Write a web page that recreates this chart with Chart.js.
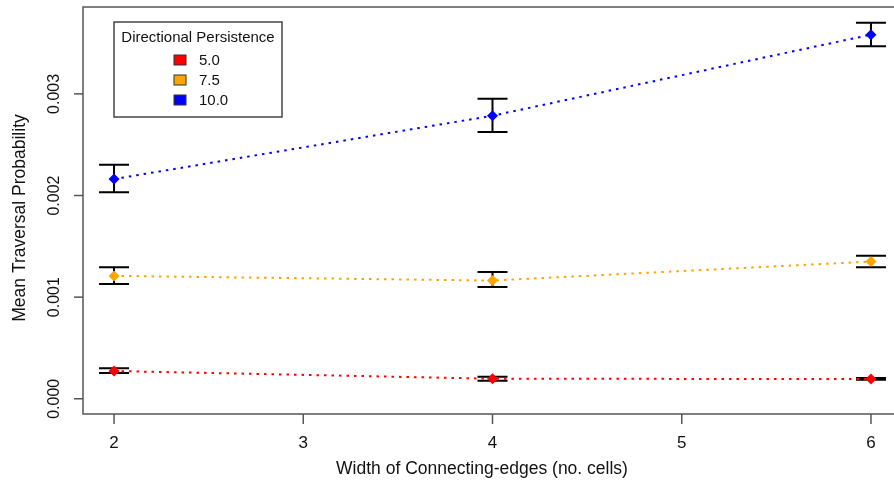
<!DOCTYPE html>
<html>
<head>
<meta charset="utf-8">
<script src="https://cdn.jsdelivr.net/npm/chart.js@4"></script>
<style>
  html, body { margin: 0; padding: 0; background: #fff; overflow: hidden; }
  #wrap { width: 930px; height: 487px; }
</style>
</head>
<body>
<div id="wrap"><canvas id="plot" width="930" height="487"></canvas></div>
<script>
// x values: width of connecting edges
const widths = [2, 4, 6];
const xTicks = [2, 3, 4, 5, 6];
const yTicks = [0, 0.001, 0.002, 0.003];
const yTickLabels = ['0.000', '0.001', '0.002', '0.003'];

const seriesNames = ['5.0', '7.5', '10.0'];
const seriesColors = ['#ff0000', '#ffa500', '#0000ff'];

// mean traversal probability per persistence
const mean50 = [0.000273, 0.000197, 0.000194];
const mean75 = [0.001209, 0.001163, 0.001350];
const mean100 = [0.002162, 0.002785, 0.003583];

// error bar ends
const upper50 = [0.000300, 0.000217, 0.000204];
const lower50 = [0.000253, 0.000177, 0.000186];
const upper75 = [0.001295, 0.001248, 0.001406];
const lower75 = [0.001130, 0.001100, 0.001295];
const upper100 = [0.002302, 0.002953, 0.003699];
const lower100 = [0.002033, 0.002625, 0.003468];

const means = [mean50, mean75, mean100];
const uppers = [upper50, upper75, upper100];
const lowers = [lower50, lower75, lower100];

const FONT = '"Liberation Sans", Arial, sans-serif';

const datasets = seriesNames.map((name, i) => ({
    label: name,
    data: widths.map((w, j) => ({x: w, y: means[i][j]})),
    borderColor: seriesColors[i],
    backgroundColor: seriesColors[i],
    borderWidth: 2,
    borderDash: [2.5, 5],
    borderCapStyle: 'butt',
    tension: 0,
    pointStyle: 'rectRot',
    pointRadius: 5.5,
    pointBorderWidth: 0,
    showLine: true,
    fill: false,
}));

// error bars drawn under the points
const errorBars = {
    id: 'errorBars',
    beforeDatasetsDraw(chart) {
        const {ctx, scales: {x, y}} = chart;
        ctx.save();
        ctx.strokeStyle = '#000';
        ctx.lineWidth = 2;
        for (let i = 0; i < means.length; i++) {
            for (let j = 0; j < widths.length; j++) {
                const px = x.getPixelForValue(widths[j]);
                const top = y.getPixelForValue(uppers[i][j]);
                const bot = y.getPixelForValue(lowers[i][j]);
                ctx.beginPath();
                ctx.moveTo(px, top); ctx.lineTo(px, bot);
                ctx.moveTo(px - 15, top); ctx.lineTo(px + 15, top);
                ctx.moveTo(px - 15, bot); ctx.lineTo(px + 15, bot);
                ctx.stroke();
            }
        }
        ctx.restore();
    }
};

// R-style box, axes, titles and legend
const frame = {
    id: 'frame',
    afterDraw(chart) {
        const {ctx, chartArea: a, scales: {x, y}} = chart;
        ctx.save();
        ctx.strokeStyle = '#555';
        ctx.lineWidth = 1.5;
        ctx.strokeRect(a.left, a.top, a.right - a.left, a.bottom - a.top);

        ctx.fillStyle = '#111';
        ctx.font = '17px ' + FONT;
        ctx.textAlign = 'center';
        ctx.textBaseline = 'middle';
        xTicks.forEach(v => {
            const px = x.getPixelForValue(v);
            ctx.beginPath();
            ctx.moveTo(px, a.bottom); ctx.lineTo(px, a.bottom + 10);
            ctx.stroke();
            ctx.fillText(String(v), px, 443);
        });
        ctx.font = '16px ' + FONT;
        yTicks.forEach((v, k) => {
            const py = y.getPixelForValue(v);
            ctx.beginPath();
            ctx.moveTo(a.left, py); ctx.lineTo(a.left - 9, py);
            ctx.stroke();
            ctx.save();
            ctx.translate(55, py);
            ctx.rotate(-Math.PI / 2);
            ctx.fillText(yTickLabels[k], 0, 0);
            ctx.restore();
        });

        ctx.font = '17.5px ' + FONT;
        ctx.fillText('Width of Connecting-edges (no. cells)', 482, 469);
        ctx.save();
        ctx.translate(20, 218);
        ctx.rotate(-Math.PI / 2);
        ctx.fillText('Mean Traversal Probability', 0, 0);
        ctx.restore();

        // legend
        ctx.strokeStyle = '#444';
        ctx.lineWidth = 1.5;
        ctx.fillStyle = '#fff';
        ctx.fillRect(114, 22, 168, 95);
        ctx.strokeRect(114, 22, 168, 95);
        ctx.fillStyle = '#111';
        ctx.font = '15px ' + FONT;
        ctx.textAlign = 'center';
        ctx.fillText('Directional Persistence', 198, 38);
        ctx.textAlign = 'left';
        seriesNames.forEach((name, i) => {
            const cy = 60 + i * 20;
            ctx.fillStyle = seriesColors[i];
            ctx.fillRect(174, cy - 5, 12, 10);
            ctx.strokeStyle = '#333';
            ctx.lineWidth = 1;
            ctx.strokeRect(174, cy - 5, 12, 10);
            ctx.fillStyle = '#111';
            ctx.fillText(name, 199, cy + 1);
        });
        ctx.restore();
    }
};

let ctx = document.getElementById('plot');
var traversalPlot = new Chart(ctx, {
    type: 'scatter',
    data: {datasets: datasets},
    options: {
        responsive: false,
        animation: false,
        devicePixelRatio: 1,
        layout: {padding: {left: 83, top: 7, right: 28, bottom: 73}},
        plugins: {legend: {display: false}, tooltip: {enabled: false}},
        scales: {
            x: {type: 'linear', min: 1.836, max: 6.164, display: false},
            y: {type: 'linear', min: -0.00015, max: 0.003855, display: false}
        }
    },
    plugins: [errorBars, frame]
});
</script>
</body>
</html>
